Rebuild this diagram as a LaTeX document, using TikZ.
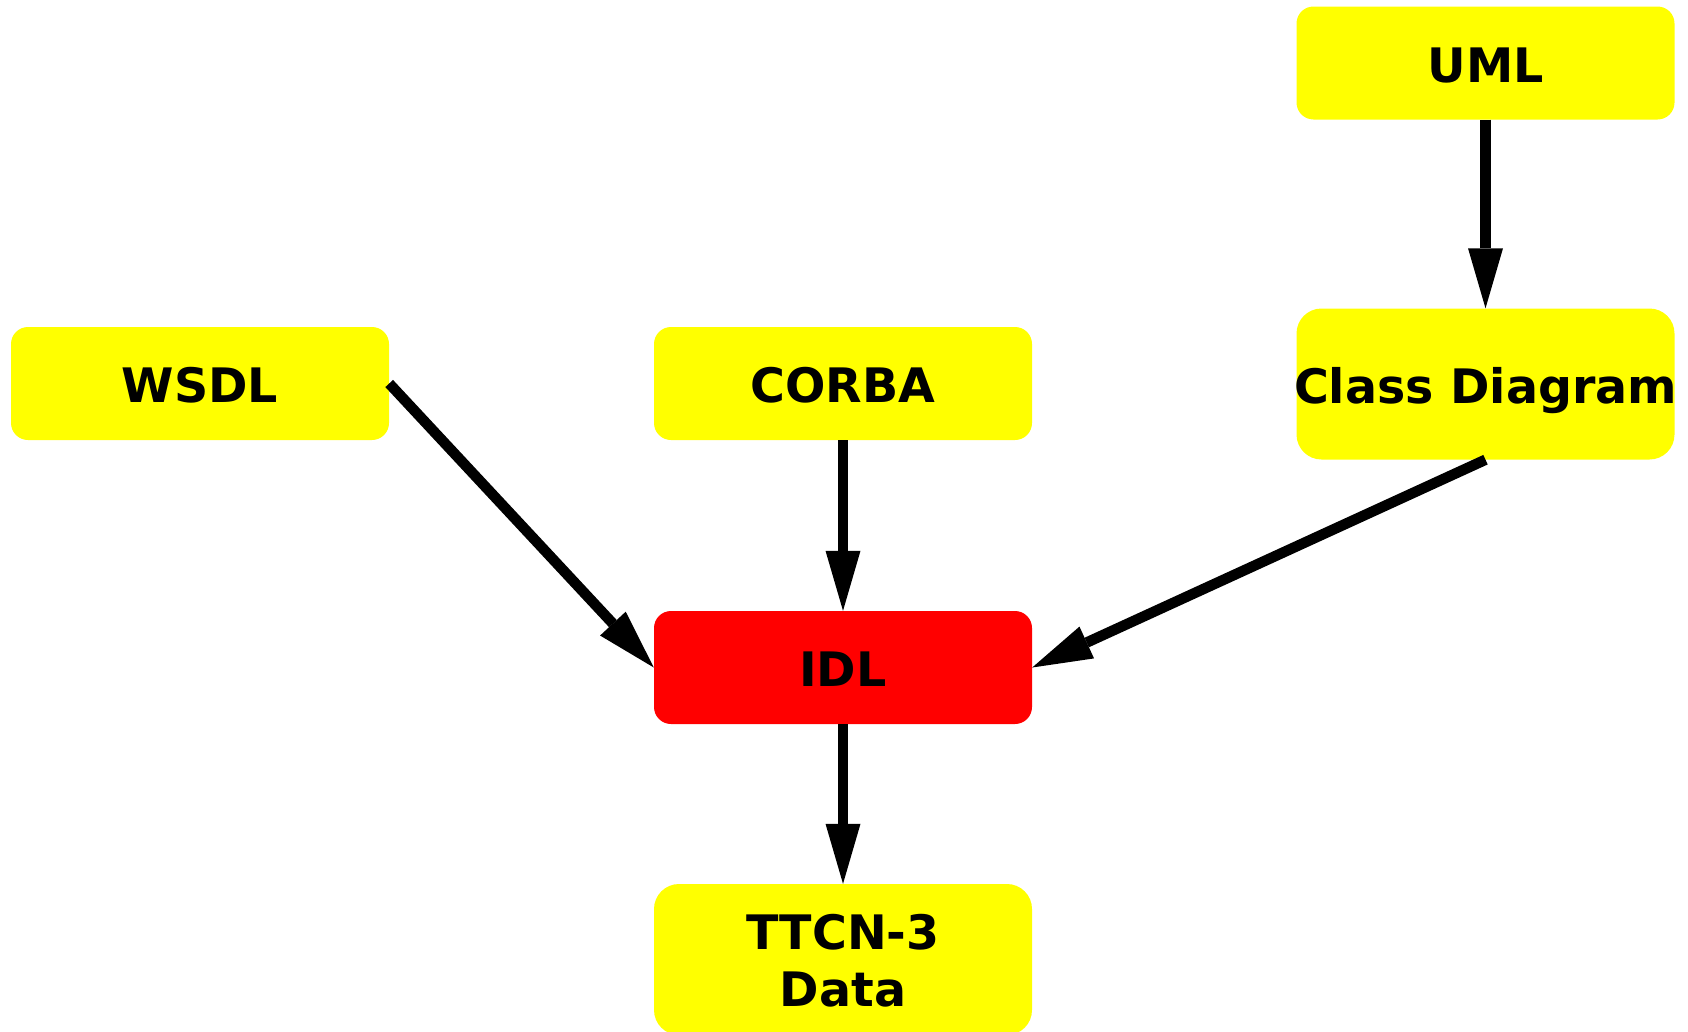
\documentclass[tikz,border=0pt]{standalone}
\usepackage{fontspec}
\setmainfont{DejaVu Sans}
\usetikzlibrary{arrows.meta}
\definecolor{boxyellow}{HTML}{FFFF00}
\definecolor{boxred}{HTML}{FF0000}
\tikzset{
  box/.style={rectangle, rounded corners=17pt, fill=boxyellow, draw=none,
    minimum width=378pt, minimum height=113pt, inner sep=0pt,
    font=\fontsize{47.5pt}{57pt}\selectfont\bfseries,
    text height=38pt, text depth=0pt, align=center},
  tallbox/.style={box, rounded corners=25pt, minimum height=151pt},
  conn/.style={line width=10.5pt, -{Triangle[length=60pt,width=35pt,line width=0pt]}}
}
\begin{document}
\begin{tikzpicture}[x=1pt,y=-1pt]
\useasboundingbox (0,0) rectangle (1688,1031);
\node[box] (uml) at (1485.5,63) {UML};
\node[tallbox] (class) at (1485.5,384) {\makebox[0pt][c]{Class Diagram}};
\node[box] (wsdl) at (200,383.5) {WSDL};
\node[box] (corba) at (843,383.5) {CORBA};
\node[box, fill=boxred] (idl) at (843,667.5) {IDL};
\node[tallbox, text height=93pt] (ttcn) at (843,959.5) {TTCN-3\\Data};
\draw[conn] (uml.south) -- (class.north);
\draw[conn] (corba.south) -- (idl.north);
\draw[conn] (wsdl.east) -- (idl.west);
\draw[conn] (class.south) -- (idl.east);
\draw[conn] (idl.south) -- (ttcn.north);
\end{tikzpicture}
\end{document}
